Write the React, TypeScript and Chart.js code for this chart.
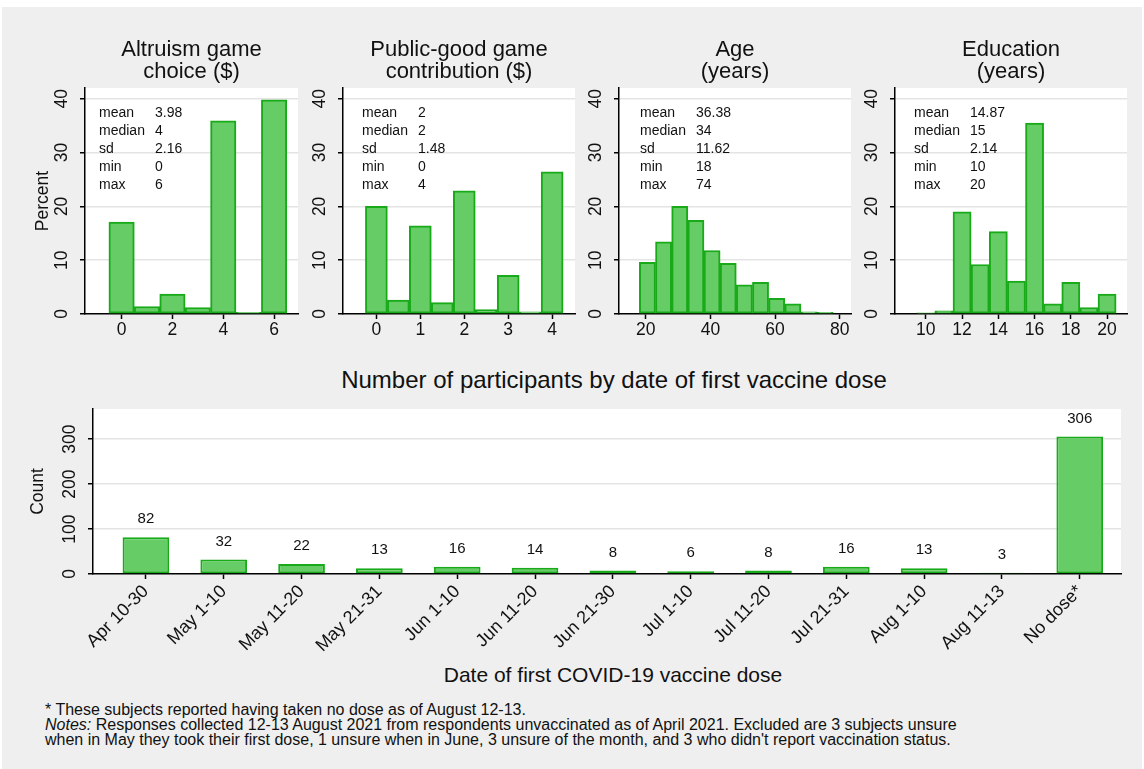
import React, { useEffect, useRef } from 'react';
import { Chart, registerables } from 'chart.js';

Chart.register(...registerables);

const FONT = '"Liberation Sans", Arial, Helvetica, sans-serif';
const FILL = '#66cc66';
const EDGE = '#18aa18';
const TXT = '#111111';

// ---------- DATA ----------
const statLabels = ['mean', 'median', 'sd', 'min', 'max'];

const altruismBins = [0, 1, 2, 3, 4, 5, 6];
const altruismPct = [17.1, 1.4, 3.7, 1.2, 35.9, 0.3, 39.8];
const altruismStats = ['3.98', '4', '2.16', '0', '6'];
const altruismTicks = [0, 2, 4, 6];

const publicBins = [0, 0.5, 1, 1.5, 2, 2.5, 3, 3.5, 4];
const publicPct = [20.0, 2.6, 16.4, 2.1, 22.9, 0.8, 7.2, 0.4, 26.4];
const publicStats = ['2', '2', '1.48', '0', '4'];
const publicTicks = [0, 1, 2, 3, 4];

const ageBins = [20.5, 25.5, 30.5, 35.5, 40.5, 45.5, 50.5, 55.5, 60.5, 65.5, 70.5, 75.5];
const agePct = [9.6, 13.4, 20.0, 17.4, 11.8, 9.4, 5.4, 5.9, 2.9, 1.9, 0.4, 0.3];
const ageStats = ['36.38', '34', '11.62', '18', '74'];
const ageTicks = [20, 40, 60, 80];

const eduBins = [10, 11, 12, 13, 14, 15, 16, 17, 18, 19, 20];
const eduPct = [0.2, 0.6, 19.0, 9.2, 15.3, 6.1, 35.5, 1.9, 5.9, 1.2, 3.7];
const eduStats = ['14.87', '15', '2.14', '10', '20'];
const eduTicks = [10, 12, 14, 16, 18, 20];

const pctTicks = [0, 10, 20, 30, 40];

const doseCategories = [
  'Apr 10-30', 'May 1-10', 'May 11-20', 'May 21-31', 'Jun 1-10', 'Jun 11-20',
  'Jun 21-30', 'Jul 1-10', 'Jul 11-20', 'Jul 21-31', 'Aug 1-10', 'Aug 11-13', 'No dose*',
];
const doseCounts = [82, 32, 22, 13, 16, 14, 8, 6, 8, 16, 13, 3, 306];
const countTicks = [0, 100, 200, 300];

// ---------- PANEL LAYOUT ----------
type Panel = {
  title: string[];
  bins: number[];
  pct: number[];
  stats: string[];
  ticks: number[];
  xMin: number;
  xMax: number;
  canvasLeft: number;
  yW: number;
  plotW: number;
  statLX: number;
  statVX: number;
  yTitle?: string;
};

const panels: Panel[] = [
  { title: ['Altruism game', 'choice ($)'], bins: altruismBins, pct: altruismPct, stats: altruismStats, ticks: altruismTicks, xMin: -1.44, xMax: 6.94, canvasLeft: 15, yW: 70, plotW: 213, statLX: 14, statVX: 70, yTitle: 'Percent' },
  { title: ['Public-good game', 'contribution ($)'], bins: publicBins, pct: publicPct, stats: publicStats, ticks: publicTicks, xMin: -0.76, xMax: 4.52, canvasLeft: 303, yW: 40, plotW: 232, statLX: 19, statVX: 75 },
  { title: ['Age', '(years)'], bins: ageBins, pct: agePct, stats: ageStats, ticks: ageTicks, xMin: 11.7, xMax: 83.5, canvasLeft: 579, yW: 40, plotW: 232, statLX: 21, statVX: 77 },
  { title: ['Education', '(years)'], bins: eduBins, pct: eduPct, stats: eduStats, ticks: eduTicks, xMin: 8.3, xMax: 21.1, canvasLeft: 855, yW: 40, plotW: 232, statLX: 19, statVX: 75 },
];

const PANEL_TOP = 30;
const PANEL_H = 320;
const PAD_TOP = 58;
const X_AXIS_H = 36;
const PAD_RIGHT = 12;

const plotBg = {
  id: 'plotBg',
  beforeDraw(chart: any) {
    const { ctx, chartArea } = chart;
    ctx.save();
    ctx.fillStyle = '#ffffff';
    ctx.fillRect(chartArea.left, chartArea.top, chartArea.right - chartArea.left, chartArea.bottom - chartArea.top);
    ctx.restore();
  },
};

function Histogram({ p }: { p: Panel }) {
  const ref = useRef<HTMLCanvasElement>(null);
  const width = p.yW + p.plotW + PAD_RIGHT;
  useEffect(() => {
    const overlay = {
      id: 'overlay',
      afterDraw(chart: any) {
        const { ctx, chartArea } = chart;
        const { left, right, top, bottom } = chartArea;
        ctx.save();
        ctx.fillStyle = TXT;
        ctx.font = `14px ${FONT}`;
        ctx.textBaseline = 'middle';
        ctx.textAlign = 'left';
        statLabels.forEach((l, i) => {
          const y = top + 25.3 + 18 * i;
          ctx.fillText(l, left + p.statLX, y);
          ctx.fillText(p.stats[i], left + p.statVX, y);
        });
        ctx.font = `22px ${FONT}`;
        ctx.textAlign = 'center';
        ctx.textBaseline = 'alphabetic';
        const cx = (left + right) / 2;
        ctx.fillText(p.title[0], cx, top - 32);
        ctx.fillText(p.title[1], cx, top - 10.3);
        if (p.yTitle) {
          ctx.font = `17.5px ${FONT}`;
          ctx.translate(left - 42, (top + bottom) / 2);
          ctx.rotate(-Math.PI / 2);
          ctx.textBaseline = 'middle';
          ctx.fillText(p.yTitle, 0, 0);
        }
        ctx.restore();
      },
    };
    const chart = new Chart(ref.current as HTMLCanvasElement, {
      type: 'bar',
      data: {
        datasets: [
          {
            data: p.bins.map((x, i) => ({ x, y: p.pct[i] })),
            backgroundColor: FILL,
            borderColor: EDGE,
            borderWidth: 2,
            borderSkipped: false,
            categoryPercentage: 1,
            barPercentage: 1,
          } as any,
        ],
      },
      options: {
        animation: false,
        responsive: false,
        maintainAspectRatio: false,
        layout: { padding: { top: PAD_TOP, right: PAD_RIGHT, left: 0, bottom: 0 } },
        plugins: { legend: { display: false }, tooltip: { enabled: false }, title: { display: false } },
        scales: {
          x: {
            type: 'linear',
            min: p.xMin,
            max: p.xMax,
            offset: false,
            afterBuildTicks: (s: any) => { s.ticks = p.ticks.map((v) => ({ value: v })); },
            afterFit: (s: any) => { s.height = X_AXIS_H; },
            grid: { display: true, drawOnChartArea: false, drawTicks: true, tickLength: 5, tickColor: '#000', tickWidth: 1.5, offset: false },
            border: { display: true, color: '#000', width: 1.5 },
            ticks: { font: { family: FONT, size: 17.5 }, color: TXT, padding: 1, maxRotation: 0, minRotation: 0, autoSkip: false },
          },
          y: {
            type: 'linear',
            min: 0,
            max: 42,
            afterBuildTicks: (s: any) => { s.ticks = pctTicks.map((v) => ({ value: v })); },
            afterFit: (s: any) => { s.width = p.yW; },
            grid: {
              color: (c: any) => (c.tick && c.tick.value === 0 ? 'rgba(0,0,0,0)' : '#e4e4e4'),
              lineWidth: 1.5,
              drawTicks: true,
              tickLength: 5,
              tickColor: '#000',
              tickWidth: 1.5,
            },
            border: { display: true, color: '#000', width: 1.5 },
            ticks: { font: { family: FONT, size: 17.5 }, color: TXT, padding: 8, minRotation: 90, maxRotation: 90, crossAlign: 'center', autoSkip: false },
          },
        },
      } as any,
      plugins: [plotBg, overlay],
    });
    return () => chart.destroy();
  }, []);
  return (
    <canvas
      ref={ref}
      width={width}
      height={PANEL_H}
      style={{ position: 'absolute', left: p.canvasLeft, top: PANEL_TOP, width, height: PANEL_H }}
    />
  );
}

const BAR_LEFT = 0;
const BAR_TOP = 395;
const BAR_W = 1135;
const BAR_H = 260;

function DoseChart() {
  const ref = useRef<HTMLCanvasElement>(null);
  useEffect(() => {
    const overlay = {
      id: 'doseOverlay',
      afterDraw(chart: any) {
        const { ctx, chartArea } = chart;
        const meta = chart.getDatasetMeta(0);
        ctx.save();
        ctx.fillStyle = TXT;
        ctx.font = `15px ${FONT}`;
        ctx.textAlign = 'center';
        ctx.textBaseline = 'middle';
        meta.data.forEach((el: any, i: number) => {
          ctx.fillText(String(doseCounts[i]), el.x, el.y - 18);
        });
        ctx.font = `17.5px ${FONT}`;
        ctx.translate(chartArea.left - 55, (chartArea.top + chartArea.bottom) / 2);
        ctx.rotate(-Math.PI / 2);
        ctx.fillText('Count', 0, 0);
        ctx.restore();
      },
    };
    const chart = new Chart(ref.current as HTMLCanvasElement, {
      type: 'bar',
      data: {
        datasets: [
          {
            data: doseCounts.map((v, i) => ({ x: i, y: v })),
            backgroundColor: FILL,
            borderColor: EDGE,
            borderWidth: 2,
            borderSkipped: false,
            categoryPercentage: 1,
            barPercentage: 0.6,
          } as any,
        ],
      },
      options: {
        animation: false,
        responsive: false,
        maintainAspectRatio: false,
        layout: { padding: { top: 11, right: 14, left: 0, bottom: 0 } },
        plugins: { legend: { display: false }, tooltip: { enabled: false }, title: { display: false } },
        scales: {
          x: {
            type: 'linear',
            min: -0.68,
            max: 12.53,
            offset: false,
            afterBuildTicks: (s: any) => { s.ticks = doseCategories.map((_, i) => ({ value: i })); },
            afterFit: (s: any) => { s.height = 81; },
            grid: { display: true, drawOnChartArea: false, drawTicks: true, tickLength: 5, tickColor: '#000', tickWidth: 1.5, offset: false },
            border: { display: true, color: '#000', width: 1.5 },
            ticks: {
              font: { family: FONT, size: 18 },
              color: TXT,
              padding: 2,
              minRotation: 45,
              maxRotation: 45,
              autoSkip: false,
              callback: (v: any) => doseCategories[Math.round(Number(v))] ?? '',
            },
          },
          y: {
            type: 'linear',
            min: 0,
            max: 367,
            afterBuildTicks: (s: any) => { s.ticks = countTicks.map((v) => ({ value: v })); },
            afterFit: (s: any) => { s.width = 93; },
            grid: {
              color: (c: any) => (c.tick && c.tick.value === 0 ? 'rgba(0,0,0,0)' : '#e4e4e4'),
              lineWidth: 1.5,
              drawTicks: true,
              tickLength: 5,
              tickColor: '#000',
              tickWidth: 1.5,
            },
            border: { display: true, color: '#000', width: 1.5 },
            ticks: { font: { family: FONT, size: 17.5 }, color: TXT, padding: 3.5, minRotation: 90, maxRotation: 90, crossAlign: 'center', autoSkip: false },
          },
        },
      } as any,
      plugins: [plotBg, overlay],
    });
    return () => chart.destroy();
  }, []);
  return (
    <canvas
      ref={ref}
      width={BAR_W}
      height={BAR_H}
      style={{ position: 'absolute', left: BAR_LEFT, top: BAR_TOP, width: BAR_W, height: BAR_H }}
    />
  );
}

const noteStyle: React.CSSProperties = {
  position: 'absolute',
  left: 45,
  fontFamily: FONT,
  fontSize: 16,
  lineHeight: '15px',
  color: TXT,
  whiteSpace: 'nowrap',
};

export default function App() {
  return (
    <div style={{ position: 'absolute', left: 0, top: 0, width: 1144, height: 769, background: '#ffffff', overflow: 'hidden' }}>
      <div style={{ position: 'absolute', left: 2, top: 7, width: 1140, height: 762, background: '#efefef' }} />
      {panels.map((p, i) => (
        <Histogram key={i} p={p} />
      ))}
      <div style={{ position: 'absolute', left: 0, width: 1228, top: 366, textAlign: 'center', fontFamily: FONT, fontSize: 24, lineHeight: '28px', color: TXT, whiteSpace: 'nowrap' }}>
        Number of participants by date of first vaccine dose
      </div>
      <DoseChart />
      <div style={{ position: 'absolute', left: 0, width: 1226, top: 662, textAlign: 'center', fontFamily: FONT, fontSize: 21, lineHeight: '26px', color: TXT, whiteSpace: 'nowrap' }}>
        Date of first COVID-19 vaccine dose
      </div>
      <div style={{ ...noteStyle, top: 702 }}>* These subjects reported having taken no dose as of August 12-13.</div>
      <div style={{ ...noteStyle, top: 717 }}>
        <i>Notes:</i> Responses collected 12-13 August 2021 from respondents unvaccinated as of April 2021. Excluded are 3 subjects unsure
      </div>
      <div style={{ ...noteStyle, top: 732 }}>
        when in May they took their first dose, 1 unsure when in June, 3 unsure of the month, and 3 who didn't report vaccination status.
      </div>
    </div>
  );
}
